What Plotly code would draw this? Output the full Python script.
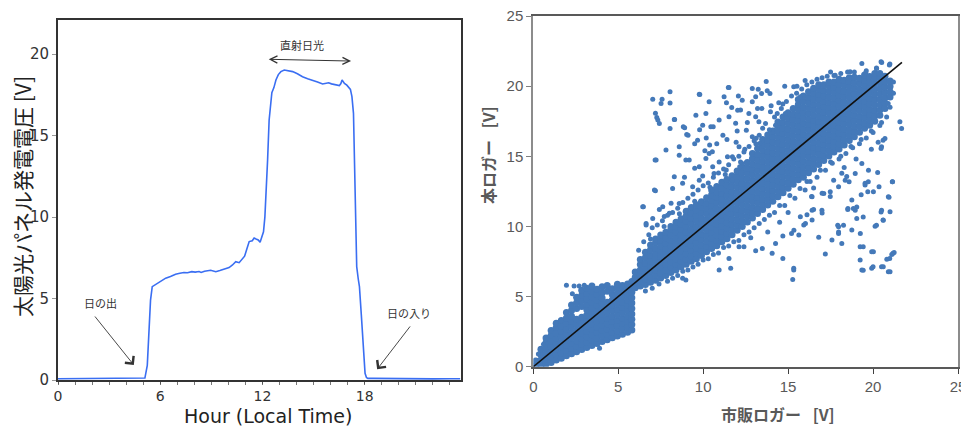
import plotly.graph_objects as go

# ---------------- Left panel: solar panel voltage over one day ----------------
HOURS = [0, 1, 2, 3, 4, 5.0, 5.1, 5.24, 5.33, 5.43, 5.53, 5.7, 5.92, 6.12, 6.32, 6.6,
         6.9, 7.15, 7.39, 7.6, 7.85, 8.05, 8.28, 8.4, 8.6, 8.96, 9.26, 9.5, 9.8, 10.04,
         10.24, 10.43, 10.63, 10.82, 10.95, 11.1, 11.22, 11.4, 11.51, 11.62, 11.75, 11.86,
         11.95, 12.06, 12.14, 12.2, 12.3, 12.39, 12.47, 12.55, 12.67, 12.79, 12.93, 13.08,
         13.28, 13.5, 13.77, 14.05, 14.35, 14.65, 14.94, 15.23, 15.53, 15.7, 15.88, 16.05,
         16.3, 16.51, 16.6, 16.67, 16.81, 16.95, 17.16, 17.25, 17.34, 17.43, 17.53, 17.62,
         17.69, 17.8, 17.88, 17.96, 18.02, 18.1, 18.18, 18.5, 19, 20, 21, 22, 23, 23.6]
VOLTS = [0.08, 0.08, 0.08, 0.08, 0.08, 0.08, 0.12, 0.9, 2.8, 4.9, 5.73, 5.85, 6.0, 6.15, 6.25, 6.35,
         6.49, 6.55, 6.6, 6.58, 6.65, 6.62, 6.66, 6.6, 6.68, 6.74, 6.65, 6.72, 6.8, 6.9,
         7.06, 7.26, 7.2, 7.4, 7.6, 8.1, 8.5, 8.55, 8.72, 8.66, 8.6, 8.45,
         8.8, 9.1, 10.0, 11.2, 13.5, 15.96, 17.0, 17.64, 17.95, 18.42, 18.75, 18.93,
         19.03, 19.0, 18.93, 18.8, 18.62, 18.5, 18.42, 18.3, 18.17, 18.2, 18.25, 18.18,
         18.12, 18.07, 18.2, 18.42, 18.21, 18.1, 17.84, 17.4, 16.37, 12.0, 6.96, 6.2,
         5.73, 4.0, 2.46, 1.0, 0.41, 0.15, 0.1, 0.1, 0.09, 0.08, 0.08, 0.07, 0.08, 0.08]
LEFT_XTICKS = [0, 6, 12, 18]
LEFT_YTICKS = [0, 5, 10, 15, 20]

# ---------------- Right panel: logger comparison scatter ----------------
# dense lower blob (x < 6), columns of (x, [y ...])
BLOB_COLUMNS = [
    (0.15, [0.05, 0.4]),
    (0.45, [0.1, 0.48, 0.86, 1.25]),
    (0.75, [0.18, 0.56, 0.95, 1.34, 1.72, 2.05]),
    (1.05, [0.3, 0.68, 1.06, 1.45, 1.84, 2.22, 2.58]),
    (1.35, [0.48, 0.86, 1.25, 1.64, 2.02, 2.4, 2.8, 3.1]),
    (1.65, [0.6, 0.98, 1.36, 1.75, 2.14, 2.52, 2.9, 3.3]),
    (1.95, [0.78, 1.16, 1.55, 1.94, 2.32, 2.7, 3.1, 3.48, 3.86]),
    (2.25, [0.92, 1.3, 1.68, 2.06, 2.45, 2.84, 3.22, 3.6, 4.0, 4.4]),
    (2.55, [1.06, 1.45, 1.84, 2.22, 2.6, 3.0, 3.38, 4.15, 4.55, 4.95]),
    (2.85, [1.22, 1.6, 1.98, 2.36, 2.75, 3.14, 3.52, 4.3, 4.7, 5.08, 5.45]),
    (3.15, [1.36, 1.75, 2.14, 2.52, 2.9, 3.3, 3.68, 4.06, 4.45, 4.84, 5.22, 5.6]),
    (3.45, [1.52, 1.9, 2.28, 2.66, 3.05, 3.44, 3.82, 4.2, 4.6, 4.98, 5.36, 5.75]),
    (3.75, [1.66, 2.05, 2.44, 2.82, 3.2, 3.6, 3.98, 4.36, 4.75, 5.14, 5.52]),
    (4.05, [1.8, 2.2, 2.58, 2.96, 3.35, 3.74, 4.12, 4.5, 4.9, 5.28, 5.7]),
    (4.35, [1.92, 2.3, 2.68, 3.06, 3.45, 3.84, 4.22, 4.6, 5.38, 5.78]),
    (4.65, [2.06, 2.45, 2.84, 3.22, 3.6, 4.0, 4.38, 4.76, 5.15, 5.55]),
    (4.95, [2.18, 2.56, 2.94, 3.32, 3.7, 4.1, 4.48, 4.86, 5.25, 5.64, 5.88]),
    (5.25, [2.32, 2.7, 3.08, 3.46, 3.85, 4.24, 4.62, 5.0, 5.4, 5.78]),
    (5.55, [2.45, 2.84, 3.22, 3.6, 4.0, 4.38, 4.76, 5.15, 5.54, 5.9]),
    (5.8, [2.62, 3.0, 3.38, 3.76, 4.15, 4.54, 4.92, 5.3, 5.7, 6.08]),
]

# dense main band (x >= 6)
BAND_COLUMNS = [
    (6.0, [5.62, 6.0, 6.38, 6.75]),
    (6.3, [5.75, 6.12, 6.5, 6.9, 7.28, 7.65]),
    (6.6, [5.86, 6.25, 6.62, 7.0, 7.4, 7.78, 8.15]),
    (6.9, [6.02, 6.4, 6.8, 7.18, 7.55, 7.95, 8.33, 8.68]),
    (7.2, [6.16, 6.55, 6.92, 7.3, 7.7, 8.08, 8.45, 8.85, 9.1]),
    (7.5, [6.32, 6.7, 7.1, 7.48, 7.85, 8.25, 8.62, 9.0, 9.38]),
    (7.8, [6.5, 6.9, 7.28, 7.65, 8.05, 8.42, 8.8, 9.2, 9.58]),
    (8.1, [6.72, 7.1, 7.48, 7.86, 8.25, 8.62, 9.0, 9.4, 9.78, 10.0]),
    (8.4, [6.9, 7.3, 7.68, 8.05, 8.45, 8.82, 9.2, 9.6, 9.98, 10.3]),
    (8.7, [7.12, 7.5, 7.88, 8.26, 8.65, 9.02, 9.4, 9.8, 10.18, 10.55]),
    (9.0, [7.3, 7.68, 8.06, 8.45, 8.84, 9.22, 9.6, 10.0, 10.38, 10.75, 11.08]),
    (9.3, [7.52, 7.9, 8.28, 8.66, 9.05, 9.42, 9.8, 10.2, 10.58, 10.96, 11.35]),
    (9.6, [7.7, 8.08, 8.46, 8.85, 9.24, 9.62, 10.0, 10.4, 10.78, 11.15, 11.55]),
    (9.9, [7.92, 8.3, 8.68, 9.06, 9.45, 9.84, 10.22, 10.6, 11.0, 11.38, 11.76]),
    (10.2, [8.2, 8.58, 8.96, 9.35, 9.74, 10.12, 10.5, 10.9, 11.28, 11.66, 12.05]),
    (10.5, [8.42, 8.8, 9.18, 9.56, 9.95, 10.34, 10.72, 11.1, 11.5, 11.88, 12.26, 12.6]),
    (10.8, [8.62, 9.0, 9.38, 9.76, 10.15, 10.54, 10.92, 11.3, 11.7, 12.08, 12.46, 12.85]),
    (11.1, [8.9, 9.28, 9.66, 10.05, 10.44, 10.82, 11.2, 11.6, 11.98, 12.36, 12.75, 13.15]),
    (11.4, [9.12, 9.5, 9.88, 10.26, 10.65, 11.04, 11.42, 11.8, 12.2, 12.58, 12.96, 13.35]),
    (11.7, [9.4, 9.78, 10.16, 10.55, 10.94, 11.32, 11.7, 12.1, 12.48, 12.86, 13.25, 13.62]),
    (12.0, [9.72, 10.1, 10.48, 10.86, 11.25, 11.64, 12.02, 12.4, 12.8, 13.18, 13.56, 13.95]),
    (12.3, [10.0, 10.38, 10.76, 11.15, 11.54, 11.92, 12.3, 12.7, 13.08, 13.46, 13.85, 14.24]),
    (12.6, [10.32, 10.7, 11.08, 11.46, 11.85, 12.24, 12.62, 13.0, 13.4, 13.78, 14.16, 14.55]),
    (12.9, [10.6, 10.98, 11.36, 11.75, 12.14, 12.52, 12.9, 13.3, 13.68, 14.06, 14.45, 14.84, 15.2]),
    (13.2, [10.92, 11.3, 11.68, 12.06, 12.45, 12.84, 13.22, 13.6, 14.0, 14.38, 14.76, 15.15, 15.55]),
    (13.5, [11.2, 11.58, 11.96, 12.35, 12.74, 13.12, 13.5, 13.9, 14.28, 14.66, 15.05, 15.44, 15.82, 16.2]),
    (13.8, [11.52, 11.9, 12.28, 12.66, 13.05, 13.44, 13.82, 14.2, 14.6, 14.98, 15.36, 15.75, 16.14, 16.52]),
    (14.1, [11.8, 12.18, 12.56, 12.95, 13.34, 13.72, 14.1, 14.5, 14.88, 15.26, 15.65, 16.04, 16.42, 16.8]),
    (14.4, [12.12, 12.5, 12.88, 13.26, 13.65, 14.04, 14.42, 14.8, 15.2, 15.58, 15.96, 16.35, 16.74, 17.12, 17.45]),
    (14.7, [12.4, 12.78, 13.16, 13.55, 13.94, 14.32, 14.7, 15.1, 15.48, 15.86, 16.25, 16.64, 17.02, 17.4, 17.8]),
    (15.0, [12.72, 13.1, 13.48, 13.86, 14.25, 14.64, 15.02, 15.4, 15.8, 16.18, 16.56, 16.95, 17.34, 17.72, 18.1]),
    (15.3, [13.0, 13.38, 13.76, 14.15, 14.54, 14.92, 15.3, 15.7, 16.08, 16.46, 16.85, 17.24, 17.62, 18.0, 18.4]),
    (15.6, [13.32, 13.7, 14.08, 14.46, 14.85, 15.24, 15.62, 16.0, 16.4, 16.78, 17.16, 17.55, 17.94, 18.32, 18.7, 19.05]),
    (15.9, [13.5, 13.88, 14.26, 14.65, 15.04, 15.42, 15.8, 16.2, 16.58, 16.96, 17.35, 17.74, 18.12, 18.5, 18.9, 19.3]),
    (16.2, [13.82, 14.2, 14.58, 14.96, 15.35, 15.74, 16.12, 16.5, 16.9, 17.28, 17.66, 18.05, 18.44, 18.82, 19.2, 19.6]),
    (16.5, [14.1, 14.48, 14.86, 15.25, 15.64, 16.02, 16.4, 16.8, 17.18, 17.56, 17.95, 18.34, 18.72, 19.1, 19.5, 19.85]),
    (16.8, [14.42, 14.8, 15.18, 15.56, 15.95, 16.34, 16.72, 17.1, 17.5, 17.88, 18.26, 18.65, 19.04, 19.42, 19.8, 20.1]),
    (17.1, [14.7, 15.08, 15.46, 15.85, 16.24, 16.62, 17.0, 17.4, 17.78, 18.16, 18.55, 18.94, 19.32, 19.7, 20.1]),
    (17.4, [15.02, 15.4, 15.78, 16.16, 16.55, 16.94, 17.32, 17.7, 18.1, 18.48, 18.86, 19.25, 19.64, 20.02, 20.3]),
    (17.7, [15.3, 15.68, 16.06, 16.45, 16.84, 17.22, 17.6, 18.0, 18.38, 18.76, 19.15, 19.54, 19.92, 20.3]),
    (18.0, [15.52, 15.9, 16.28, 16.66, 17.05, 17.44, 17.82, 18.2, 18.6, 18.98, 19.36, 19.75, 20.14, 20.5]),
    (18.3, [15.8, 16.18, 16.56, 16.95, 17.34, 17.72, 18.1, 18.5, 18.88, 19.26, 19.65, 20.04, 20.42]),
    (18.6, [16.12, 16.5, 16.88, 17.26, 17.65, 18.04, 18.42, 18.8, 19.2, 19.58, 19.96, 20.35, 20.6]),
    (18.9, [16.4, 16.78, 17.16, 17.55, 17.94, 18.32, 18.7, 19.1, 19.48, 19.86, 20.25, 20.64]),
    (19.2, [16.72, 17.1, 17.48, 17.86, 18.25, 18.64, 19.02, 19.4, 19.8, 20.18, 20.56]),
    (19.5, [17.0, 17.38, 17.76, 18.15, 18.54, 18.92, 19.3, 19.7, 20.08, 20.46, 20.8]),
    (19.8, [17.22, 17.6, 17.98, 18.36, 18.75, 19.14, 19.52, 19.9, 20.3, 20.68]),
    (20.1, [17.5, 17.88, 18.26, 18.65, 19.04, 19.42, 19.8, 20.2, 20.58, 20.9]),
    (20.4, [17.92, 18.3, 18.68, 19.06, 19.45, 19.84, 20.22, 20.6, 20.9]),
    (20.7, [18.4, 18.78, 19.16, 19.55, 19.94, 20.32, 20.7]),
    (21.0, [19.22, 19.6, 19.98, 20.36]),
]

# scattered points above the band
OUTLIERS_ABOVE = [
    (7.03, 19.07), (7.58, 19.07), (8.05, 19.6), (8.05, 18.8), (9.77, 19.43), (11.48, 19.9),
    (10.35, 18.88), (11.23, 19.24), (11.68, 18.48), (7.27, 17.77), (7.42, 17.34), (8.32, 17.62),
    (8.05, 16.98), (8.83, 17.1), (9.03, 16.56), (9.57, 17.93), (10.16, 18.05), (10.59, 17.1),
    (10.94, 17.58), (12.03, 18.29), (12.3, 19.0), (12.89, 19.83), (13.71, 20.33), (13.44, 19.48),
    (13.09, 17.81), (13.67, 17.34), (14.36, 18.05), (14.69, 18.72), (15.33, 19.95), (15.72, 19.24),
    (7.17, 14.73), (7.19, 12.54), (8.3, 13.54), (8.98, 14.73), (7.81, 15.44), (8.59, 15.68),
    (9.67, 16.15), (10.35, 15.2), (9.77, 14.25), (10.64, 13.78), (11.43, 14.96), (12.11, 15.68),
    (12.3, 14.49), (12.89, 16.39), (13.32, 15.91), (11.72, 13.3), (10.55, 12.59), (9.38, 12.83),
    (8.59, 11.64), (7.62, 11.4), (6.48, 11.4), (6.64, 10.1), (7.03, 10.57), (8.01, 10.93),
    (7.52, 18.77), (9.8, 19.41), (11.52, 19.91), (12.07, 19.3), (13.24, 19.77), (13.77, 19.67),
    (14.8, 20.0), (15.52, 20.0), (11.37, 18.82), (13.09, 19.24), (12.89, 18.89), (13.93, 19.48),
    (14.45, 18.82), (7.33, 17.58), (7.19, 18.06), (8.3, 17.63), (9.97, 17.22), (10.45, 17.11),
    (11.52, 17.82), (12.2, 18.3), (11.91, 17.35), (12.69, 18.05), (12.54, 16.86), (13.46, 18.41),
    (13.96, 18.17), (13.28, 17.46), (14.26, 17.22), (14.84, 18.05), (8.91, 17.03), (9.11, 16.5),
    (9.79, 16.9), (10.18, 16.3), (9.5, 15.9), (10.38, 15.8), (11.16, 16.5), (11.94, 16.0),
    (12.45, 15.5), (13.12, 16.28), (7.23, 14.74), (8.59, 15.07), (9.18, 14.74), (10.16, 14.85),
    (10.54, 15.33), (10.94, 14.6), (11.72, 14.97), (9.5, 14.14), (8.9, 13.5), (9.97, 13.6),
    (10.56, 14.25), (11.36, 14.02), (12.15, 14.25), (7.13, 12.6), (8.2, 12.7), (8.79, 13.07),
    (9.77, 13.3), (6.44, 11.4), (6.64, 10.2), (7.42, 11.2), (8.11, 11.66), (7.71, 10.7),
    (13.5, 17.0), (13.9, 16.9), (14.2, 17.8), (14.6, 18.4), (14.9, 18.9), (15.2, 19.3),
    (15.5, 19.5), (15.8, 19.8), (16.1, 20.1), (16.4, 20.3), (16.7, 20.5), (17.0, 20.6),
    (17.3, 20.7), (17.7, 20.75), (18.1, 20.9), (18.5, 21.0), (16.0, 20.4), (17.5, 21.0),
    (18.9, 21.0), (19.6, 21.1), (20.2, 21.3), (14.0, 18.6), (13.2, 18.4), (12.6, 17.4),
    (12.0, 16.8), (11.4, 16.2), (10.8, 15.9), (10.1, 15.4),
    (19.34, 21.62), (20.51, 21.69), (20.99, 21.57), (20.21, 21.26), (18.65, 21.02),
    (17.77, 20.78), (20.47, 21.74), (20.96, 21.5), (19.57, 20.96),
    (1.95, 5.8), (2.4, 5.75), (2.3, 5.2), (2.7, 5.75), (3.0, 5.8), (0.3, 0.9), (0.6, 1.6),
    (6.2, 8.3), (6.5, 8.9), (6.8, 9.4), (7.0, 9.9), (7.3, 10.1), (7.6, 10.4), (7.9, 10.8),
    (8.2, 11.0), (8.5, 11.3), (8.8, 11.7), (9.1, 12.0), (9.4, 12.3), (9.7, 12.6), (10.0, 12.9),
    (10.3, 13.1), (10.6, 13.5), (10.9, 13.8), (11.2, 14.1), (11.5, 14.4), (11.8, 14.8),
    (12.1, 15.0), (12.4, 15.3), (12.7, 15.7), (13.0, 16.1), (13.3, 16.5), (6.9, 9.1),
    (7.7, 10.0), (8.6, 10.9), (9.5, 11.8), (10.4, 12.8), (11.3, 13.7), (12.2, 14.6), (13.1, 15.9),
]

# scattered points below the band
OUTLIERS_BELOW = [
    (19.53, 12.95), (20.02, 12.47), (21.13, 13.18), (20.9, 12.11), (21.0, 11.05), (20.5, 11.16),
    (20.59, 10.45), (20.12, 10.02), (18.95, 11.16), (19.04, 10.57), (18.52, 11.28), (17.97, 12.83),
    (17.48, 12.47), (17.97, 9.98), (17.97, 9.5), (17.58, 9.03), (17.19, 8.03), (16.8, 9.22),
    (16.41, 10.45), (15.92, 10.1), (15.63, 9.38), (15.2, 9.5), (15.72, 10.69), (14.69, 9.31),
    (14.26, 8.79), (14.06, 8.08), (14.69, 7.72), (15.33, 7.01), (15.27, 6.22), (13.48, 8.43),
    (13.09, 8.27), (12.4, 8.55), (12.11, 8.55), (11.52, 7.72), (11.62, 7.01), (10.94, 6.89),
    (19.24, 7.6), (19.34, 6.89), (19.92, 7.01), (20.5, 7.13), (20.9, 6.77), (21.17, 8.08),
    (20.98, 7.72), (19.92, 8.19), (19.24, 8.55), (18.75, 9.74), (21.58, 17.46), (21.68, 16.98),
    (20.59, 16.15), (20.5, 15.68), (19.34, 14.49), (19.73, 14.01), (18.95, 13.78), (18.36, 13.3),
    (18.75, 11.88), (16.41, 11.16), (16.99, 11.16), (17.68, 13.3), (17.1, 12.35), (16.41, 12.11),
    (20.99, 19.24), (20.89, 18.77), (20.7, 16.27), (20.47, 15.56), (20.27, 13.84), (21.15, 13.18),
    (20.35, 12.82), (19.69, 12.48), (19.3, 12.25), (20.94, 12.08), (16.38, 12.13), (20.47, 11.02),
    (20.6, 10.44), (20.2, 10.08), (19.42, 10.68), (19.04, 11.39), (18.51, 11.2), (17.92, 10.08),
    (18.26, 10.08), (17.97, 9.6), (18.16, 8.78), (16.02, 10.2), (15.34, 9.72), (17.0, 10.96),
    (16.5, 11.2), (16.11, 10.84), (19.42, 8.55), (20.02, 8.2), (21.24, 8.14), (20.81, 7.66),
    (21.1, 8.0), (19.42, 6.88), (20.0, 7.12), (20.6, 7.12), (21.0, 6.77), (15.33, 6.9),
    (19.25, 9.5), (18.84, 11.28), (19.53, 13.07), (19.72, 13.19), (18.59, 13.19), (18.45, 13.55),
    (18.16, 13.79), (17.48, 12.13), (17.0, 12.37), (16.5, 12.73), (16.11, 13.2),
    (17.2, 14.0), (17.6, 14.5), (18.0, 14.8), (18.4, 15.2), (18.8, 15.6), (19.2, 15.9),
    (19.6, 16.3), (20.0, 16.7), (20.4, 17.2), (20.8, 17.8), (19.0, 14.8), (19.9, 15.5),
    (20.3, 16.0), (18.3, 14.2), (16.7, 13.5), (16.0, 12.6), (15.4, 12.0), (14.8, 11.5),
    (14.2, 11.0), (13.6, 10.5), (13.0, 9.9), (12.4, 9.4), (11.8, 8.9), (11.2, 8.5),
    (10.6, 8.0), (10.0, 7.6), (9.4, 7.1), (8.8, 6.8), (8.2, 6.3), (12.8, 9.2), (13.8, 9.6),
    (14.5, 10.3), (15.0, 11.0), (8.79, 6.3), (8.98, 6.18), (3.9, 1.31),
    (6.6, 5.4), (7.0, 5.6), (7.4, 5.9), (7.9, 6.1), (8.5, 6.5), (9.1, 6.9), (9.7, 7.3),
    (10.3, 7.7), (10.9, 8.1), (11.5, 8.6), (12.1, 9.0), (12.7, 9.6), (13.3, 10.2), (13.9, 10.8),
    (14.5, 11.5), (15.1, 12.2), (15.7, 12.7), (16.3, 13.2), (16.9, 14.0), (17.5, 14.6),
    (18.1, 15.0), (18.7, 15.7), (19.3, 16.2), (19.9, 16.8), (20.5, 17.4), (21.0, 18.5),
    (21.2, 19.5), (21.2, 20.3),
]

FIT_X = [0, 21.7]
FIT_Y = [0, 21.7]
RIGHT_TICKS = [0, 5, 10, 15, 20, 25]

# ---------------- expand data ----------------
dense_x, dense_y = [], []
for cols in (BLOB_COLUMNS, BAND_COLUMNS):
    for cx, ys in cols:
        for yv in ys:
            dense_x.append(cx)
            dense_y.append(yv)
out_x = [p[0] for p in OUTLIERS_ABOVE + OUTLIERS_BELOW]
out_y = [p[1] for p in OUTLIERS_ABOVE + OUTLIERS_BELOW]

MARKER_COLOR = "#4479b9"

# The page body has an 8px default margin, so the figure is drawn 8px smaller
# and every position is given in window pixels minus that offset.
OFF = 8
W, H = 969 - OFF, 427 - OFF


def px(xw):
    return (xw - OFF) / W


def py(yw):
    return (H - (yw - OFF)) / H


fig = go.Figure()
fig.add_trace(go.Scatter(x=HOURS, y=VOLTS, mode="lines", xaxis="x", yaxis="y",
                         line=dict(color="#3a6ef2", width=1.6), hoverinfo="skip"))
fig.add_trace(go.Scatter(x=dense_x, y=dense_y, mode="markers", xaxis="x2", yaxis="y2",
                         marker=dict(color=MARKER_COLOR, size=7, line=dict(width=0))))
fig.add_trace(go.Scatter(x=out_x, y=out_y, mode="markers", xaxis="x2", yaxis="y2",
                         marker=dict(color=MARKER_COLOR, size=5, line=dict(width=0))))
fig.add_trace(go.Scatter(x=FIT_X, y=FIT_Y, mode="lines", xaxis="x2", yaxis="y2",
                         line=dict(color="#111111", width=1.6)))

left_tick_font = dict(family="DejaVu Sans", size=15, color="#333333")
left_xtick_font = dict(family="DejaVu Sans", size=14, color="#333333")
right_tick_font = dict(family="Liberation Sans", size=15, color="#595959")

fig.update_layout(
    width=W, height=H,
    margin=dict(l=0, r=0, t=0, b=0, autoexpand=False),
    paper_bgcolor="white", plot_bgcolor="white",
    showlegend=False,
    xaxis=dict(domain=[px(58), px(461)], range=[0, 23.65], tickvals=LEFT_XTICKS,
               ticks="outside", ticklen=2, tickcolor="#555555", tickfont=left_xtick_font,
               showgrid=False, zeroline=False, showline=True, linecolor="#333333",
               linewidth=2, mirror=True, anchor="y", automargin=False,
               minor=dict(dtick=1, ticks="outside", ticklen=3, tickcolor="#777777", showgrid=False)),
    yaxis=dict(domain=[py(380), py(20)], range=[0, 22.1], tickvals=LEFT_YTICKS,
               ticks="outside", ticklen=4, tickcolor="#999999", tickfont=left_tick_font,
               showgrid=False, zeroline=False, showline=True, linecolor="#333333",
               linewidth=2, mirror=True, anchor="x", automargin=False),
    xaxis2=dict(domain=[px(533.3), px(958)], range=[0, 25], tickvals=RIGHT_TICKS,
                ticks="outside", ticklen=5, tickcolor="#404040", tickfont=right_tick_font,
                showgrid=False, zeroline=False, showline=True, linecolor="#595959",
                linewidth=2, mirror=True, anchor="y2", automargin=False,
                ticklabeloverflow="allow"),
    yaxis2=dict(domain=[py(366.7), py(16)], range=[0, 25], tickvals=RIGHT_TICKS,
                ticks="outside", ticklen=5, tickcolor="#808080", tickfont=right_tick_font,
                showgrid=False, zeroline=False, showline=True, linecolor="#8c8c8c",
                linewidth=2, mirror=True, anchor="x2", automargin=False,
                ticklabeloverflow="allow"),
)

annots = [
    # axis titles
    dict(text="太陽光パネル発電電圧 [V]", x=px(22), y=py(197), xref="paper", yref="paper",
         textangle=-90, showarrow=False, xanchor="center", yanchor="middle",
         font=dict(family="Noto Sans CJK JP, DejaVu Sans", size=21, color="#222222")),
    dict(text="Hour (Local Time)", x=px(268), y=py(416), xref="paper", yref="paper",
         showarrow=False, xanchor="center", yanchor="middle",
         font=dict(family="DejaVu Sans", size=19, color="#222222")),
    dict(text="<b>本ロガー\u2002 [V]</b>", x=px(488), y=py(155), xref="paper", yref="paper",
         textangle=-90, showarrow=False, xanchor="center", yanchor="middle",
         font=dict(family="Noto Sans CJK JP", size=16, color="#595959")),
    dict(text="<b>市販ロガー\u2002 [V]</b>", x=px(778), y=py(414), xref="paper", yref="paper",
         showarrow=False, xanchor="center", yanchor="middle",
         font=dict(family="Noto Sans CJK JP", size=16, color="#595959")),
    # left panel labels
    dict(text="直射日光", x=14.34, y=20.56, xref="x", yref="y", showarrow=False,
         font=dict(family="Noto Sans CJK JP", size=11, color="#333333")),
    dict(text="日の出", x=2.49, y=4.71, xref="x", yref="y", showarrow=False,
         font=dict(family="Noto Sans CJK JP", size=11, color="#333333")),
    dict(text="日の入り", x=20.57, y=4.13, xref="x", yref="y", showarrow=False,
         font=dict(family="Noto Sans CJK JP", size=11, color="#333333")),
    # arrows
    dict(text="", x=17.2, y=19.58, ax=12.28, ay=19.69, xref="x", yref="y", axref="x", ayref="y",
         showarrow=True, arrowhead=5, startarrowhead=5, arrowside="end+start",
         arrowsize=1.4, startarrowsize=1.4, arrowwidth=1, arrowcolor="#333333",
         standoff=0, startstandoff=0),
    dict(text="", x=4.45, y=0.92, ax=2.1, ay=3.99, xref="x", yref="y", axref="x", ayref="y",
         showarrow=True, arrowhead=4, arrowsize=2.4, arrowwidth=0.9, arrowcolor="#333333",
         standoff=0),
    dict(text="", x=18.73, y=0.66, ax=20.73, ay=3.38, xref="x", yref="y", axref="x", ayref="y",
         showarrow=True, arrowhead=4, arrowsize=2.4, arrowwidth=0.9, arrowcolor="#333333",
         standoff=0),
]
fig.update_layout(annotations=annots)

fig.write_html("out.html")
